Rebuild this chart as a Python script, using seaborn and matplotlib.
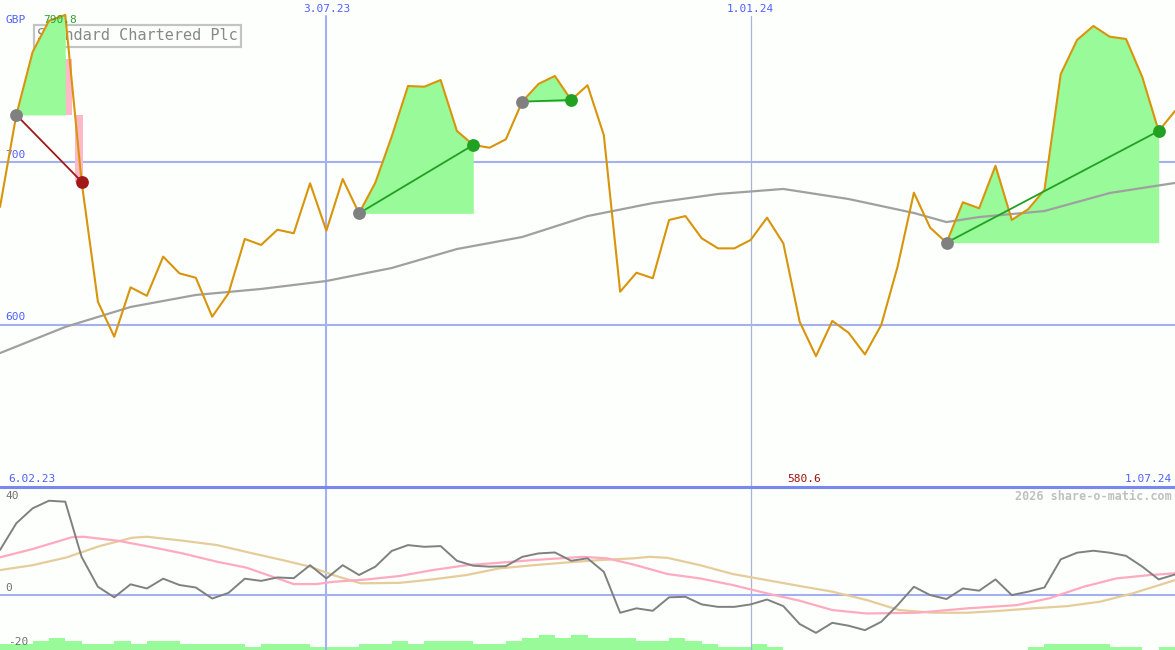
import numpy as np
import pandas as pd
import matplotlib
matplotlib.use("Agg")
import matplotlib.pyplot as plt
import matplotlib.transforms as mtransforms
from matplotlib.lines import Line2D
import seaborn as sns

# ---------------- data ----------------
price = [672.5, 729.2, 768.0, 787.2, 790.8, 688.1, 614.1, 592.6, 623.0, 617.8,
         641.9, 631.6, 628.9, 604.9, 619.3, 652.8, 649.1, 658.5, 656.3, 687.1,
         657.9, 689.7, 668.6, 687.5, 715.8, 747.0, 746.6, 750.7, 719.3, 710.7,
         709.0, 714.2, 737.4, 748.3, 753.2, 738.4, 747.5, 716.8, 620.3, 632.0,
         628.6, 664.5, 666.9, 653.2, 647.0, 647.0, 652.2, 665.9, 650.1, 601.8,
         580.6, 602.3, 595.0, 581.7, 599.8, 635.7, 681.3, 659.7, 650.5, 675.4,
         671.7, 697.9, 664.5, 671.1, 683.0, 754.4, 775.4, 784.0, 777.4, 776.0,
         752.4, 719.3, 731.6]

ma_idx = [0, 4, 8, 12, 16, 20, 24, 28, 32, 36, 40, 44, 48, 52, 56, 58, 60, 64, 68, 72]
ma_val = [582.5, 598.6, 610.9, 618.3, 622.0, 626.9, 634.9, 646.6, 654.0, 666.9,
          674.9, 680.5, 683.6, 677.4, 668.8, 663.2, 666.3, 670.0, 681.1, 687.3]

# trades: (entry index, exit index, green-fill end index)
trade_entry = [1, 22, 32, 58]
trade_exit = [5, 29, 35, 71]
gain_end = [4, 29, 35, 71]
trade_win = [False, True, True, True]
loss_top = 763.5

date_labels = {0: "6.02.23", 20: "3.07.23", 46: "1.01.24", 72: "1.07.24"}

osc = [18.4, 29.3, 35.4, 38.5, 38.1, 15.6, 3.4, -0.9, 4.4, 2.7,
       6.7, 4.1, 3.1, -1.4, 0.9, 6.7, 5.8, 7.2, 6.9, 12.2,
       6.8, 12.2, 8.2, 11.6, 18.0, 20.4, 19.7, 20.0, 14.0, 12.0,
       11.6, 11.8, 15.6, 17.0, 17.4, 14.0, 15.0, 9.5, -7.2, -5.4,
       -6.4, -0.9, -0.7, -3.8, -4.8, -4.8, -3.8, -1.8, -4.5, -11.8,
       -15.4, -11.3, -12.5, -14.3, -10.9, -4.1, 3.4, 0.0, -1.6, 2.7,
       1.8, 6.4, 0.0, 1.4, 3.1, 14.6, 17.3, 18.1, 17.3, 16.0,
       11.6, 6.4, 8.4]

pink_idx = [0, 2, 4.4, 5.1, 7.2, 9.2, 11.2, 13.3, 15.1, 16.7, 18, 19.4, 20.4,
            22.5, 24.5, 26.5, 28.6, 30.6, 32.7, 35.7, 37.2, 38.8, 40.9, 42.9,
            44.9, 47, 49, 51, 53.1, 56.2, 59.3, 62.3, 64.3, 66.4, 68.4, 70.5, 72]
pink_val = [15.4, 18.8, 23.6, 23.8, 22.2, 19.7, 17.0, 13.6, 11.2, 7.5, 4.5, 4.5, 5.4,
            6.4, 7.8, 10.2, 12.2, 13.2, 14.3, 15.6, 15.0, 12.5, 8.6, 6.8,
            4.1, 0.7, -2.3, -6.1, -7.5, -7.2, -5.4, -4.1, -1.3, 3.4, 6.8, 8.2, 8.9]

tan_idx = [0, 2, 4.1, 6.1, 8.1, 9, 11.2, 13.3, 15.3, 17.3, 19, 20.4, 22.1, 24.5,
           26.5, 28.6, 30.6, 32.7, 34.7, 36.8, 38.8, 39.8, 40.9, 42.9, 44.9, 47,
           49, 51, 53.1, 55.1, 57.2, 59.3, 61.3, 63.3, 65.4, 67.4, 69.4, 72]
tan_val = [10.2, 12.2, 15.4, 20.0, 23.4, 23.8, 22.2, 20.4, 17.3, 14.3, 11.6, 8.2, 4.8, 5.0,
           6.4, 8.2, 10.9, 12.2, 13.3, 14.3, 15.0, 15.6, 15.2, 12.2, 8.6, 6.1,
           3.7, 1.4, -2.0, -6.1, -7.2, -7.2, -6.4, -5.4, -4.5, -2.7, 0.7, 6.1]

volume = [2, 2, 3, 4, 3, 2, 2, 3, 2, 3, 3, 2, 2, 2, 2, 1, 2, 2, 2, 1,
          1, 1, 2, 2, 3, 2, 3, 3, 3, 2, 2, 3, 4, 5, 4, 5, 4, 4, 4, 3,
          3, 4, 3, 2, 1, 1, 2, 1, 0, 0, 0, 0, 0, 0, 0, 0, 0, 0, 0, 0,
          0, 0, 0, 1, 2, 2, 2, 2, 1, 1, 0, 1]

# ---------------- style ----------------
BG = "#fcfffc"
PRICE_C = "#d8940a"
FILL_G = "#98fa98"
FILL_P = "#ffb8c8"
GRID_C = "#a4b0f0"
SEP_C = "#7888ee"
LBL_B = "#5060ff"
MONO = "DejaVu Sans Mono"

sns.set_theme(style="white")
plt.rcParams["font.family"] = [MONO, "DejaVu Sans"]

W, H = 1175, 650
fig = plt.figure(figsize=(W / 100, H / 100), dpi=100, facecolor=BG)
sep_y = 163 / H
ax = fig.add_axes([0, sep_y, 1, 1 - sep_y])
axl = fig.add_axes([0, 0, 1, sep_y])
for a in (ax, axl):
    a.set_facecolor(BG)
    for s in a.spines.values():
        s.set_visible(False)
    a.set_xticks([])
    a.set_yticks([])
    a.set_xlim(0, 72)
ax.set_ylim(500, 800)
axl.set_ylim(-22.4, 44.1)

df = pd.DataFrame({"i": np.arange(len(price)), "price": price, "osc": osc})
pr = np.array(price)

# grid
for v in (700, 600):
    ax.axhline(v, color=GRID_C, lw=1.5, zorder=0.5)
ax.axvline(20, ymax=1 - 16 / 487, color=GRID_C, lw=1.5, zorder=0.5)
ax.axvline(46, ymax=1 - 16 / 487, color="#aab2d8", lw=0.9, zorder=0.5)
axl.axvline(20, color=GRID_C, lw=1.5, zorder=0.5)
axl.axvline(46, color="#aab2d8", lw=0.9, zorder=0.5)
axl.axhline(0, color=GRID_C, lw=1.5, zorder=0.5)

# title box (under the fills)
ax.text(37 / W, 1 - 36 / 487, "Standard Chartered Plc", transform=ax.transAxes,
        fontsize=11, color="#888888", family=MONO, va="center", ha="left", zorder=1,
        bbox=dict(boxstyle="square,pad=0.22", fc="none", ec="#c4c4c4", lw=1.6))

# gain fills
for e, g in zip(trade_entry, gain_end):
    xs = np.arange(e, g + 1)
    ys = pr[e:g + 1]
    ax.fill_between(xs, pr[e], ys, where=ys >= pr[e], interpolate=True,
                    color=FILL_G, lw=0, zorder=2)

# loss shading for the losing trade
for e, x, w in zip(trade_entry, trade_exit, trade_win):
    if not w:
        g = gain_end[0]
        cross = g + (pr[g] - pr[e]) / (pr[g] - pr[x])
        right = x + 0.07
        ax.bar([g + 0.22, (cross + right) / 2],
               [loss_top - pr[e], pr[e] - pr[x]],
               bottom=[pr[e], pr[x]],
               width=[0.44, right - cross], align="center",
               color=FILL_P, lw=0, zorder=1.8)

# moving average & price
sns.lineplot(x=ma_idx, y=ma_val, ax=ax, color="#a0a0a0", lw=1.6, zorder=3, legend=False)
sns.lineplot(data=df, x="i", y="price", ax=ax, color=PRICE_C, lw=1.5, zorder=4, legend=False)

# trade lines & dots
for e, x, w in zip(trade_entry, trade_exit, trade_win):
    col = "#22a022" if w else "#a01818"
    ax.plot([e, x], [pr[e], pr[x]], color=col, lw=1.3, zorder=5)
    ax.scatter([e], [pr[e]], s=85, color="#808080", zorder=6, lw=0)
    ax.scatter([x], [pr[x]], s=85, color=col, zorder=6, lw=0)

# labels main panel
bl = mtransforms.blended_transform_factory(ax.transData, ax.transAxes)
bl2 = mtransforms.blended_transform_factory(ax.transAxes, ax.transData)
imax = int(np.argmax(pr)); imin = int(np.argmin(pr))
ax.text(imax - 0.3, 1 - 20 / 487, f"{pr[imax]:.1f}", transform=bl, ha="center", va="center",
        color="#30a030", fontsize=8, zorder=7)
ax.text(imin - 0.75, 8 / 487, f"{pr[imin]:.1f}", transform=bl, ha="center", va="center",
        color="#a01010", fontsize=8, zorder=7)
ax.text(5 / W, 1 - 20 / 487, "GBP", transform=ax.transAxes, ha="left", va="center",
        color=LBL_B, fontsize=8)
for v in (700, 600):
    ax.text(5 / W, v + 1.5, str(v), transform=bl2, ha="left", va="bottom",
            color=LBL_B, fontsize=8)
for k, lab in date_labels.items():
    if k in (20, 46):
        ax.text(k, 1 - 9 / 487, lab, transform=bl, ha="center", va="center",
                color=LBL_B, fontsize=8)
ax.text(8 / W, 8 / 487, date_labels[0], transform=ax.transAxes, ha="left", va="center",
        color=LBL_B, fontsize=8)
ax.text(1 - 3 / W, 8 / 487, date_labels[72], transform=ax.transAxes, ha="right", va="center",
        color=LBL_B, fontsize=8)

# lower panel
axv = axl.twinx()
axv.set_ylim(0, 163 / 3)
axv.set_axis_off()
axv.bar(np.arange(len(volume)) + 0.5, volume, width=1.0, color=FILL_G, lw=0, zorder=1)
axl.set_zorder(axv.get_zorder() + 1)
axl.patch.set_visible(False)
axv.patch.set_visible(True)
axv.patch.set_facecolor(BG)

sns.lineplot(x=tan_idx, y=tan_val, ax=axl, color="#e6cc9a", lw=1.6, zorder=2, legend=False)
sns.lineplot(x=pink_idx, y=pink_val, ax=axl, color="#ffaac0", lw=1.6, zorder=2.5, legend=False)
sns.lineplot(data=df, x="i", y="osc", ax=axl, color="#808080", lw=1.4, zorder=3, legend=False)
axl.set_xlabel(""); axl.set_ylabel("")
ax.set_xlabel(""); ax.set_ylabel("")

lt = axl.transAxes
axl.text(5 / W, (650 - 496) / 163, "40", transform=lt, ha="left", va="center", color="#707070", fontsize=8)
axl.text(5 / W, (650 - 588) / 163, "0", transform=lt, ha="left", va="center", color="#707070", fontsize=8)
axl.text(8 / W, (650 - 642) / 163, "-20", transform=lt, ha="left", va="center", color="#707070", fontsize=8)
axl.text(1 - 3 / W, (650 - 496) / 163, "2026 share-o-matic.com", transform=lt, ha="right",
         va="center", color="#c0c0c0", fontsize=8.5, fontweight="bold")

fig.add_artist(Line2D([0, 1], [sep_y, sep_y], transform=fig.transFigure, color=SEP_C, lw=2.2))

fig.savefig("out.png", dpi=100, facecolor=BG)
